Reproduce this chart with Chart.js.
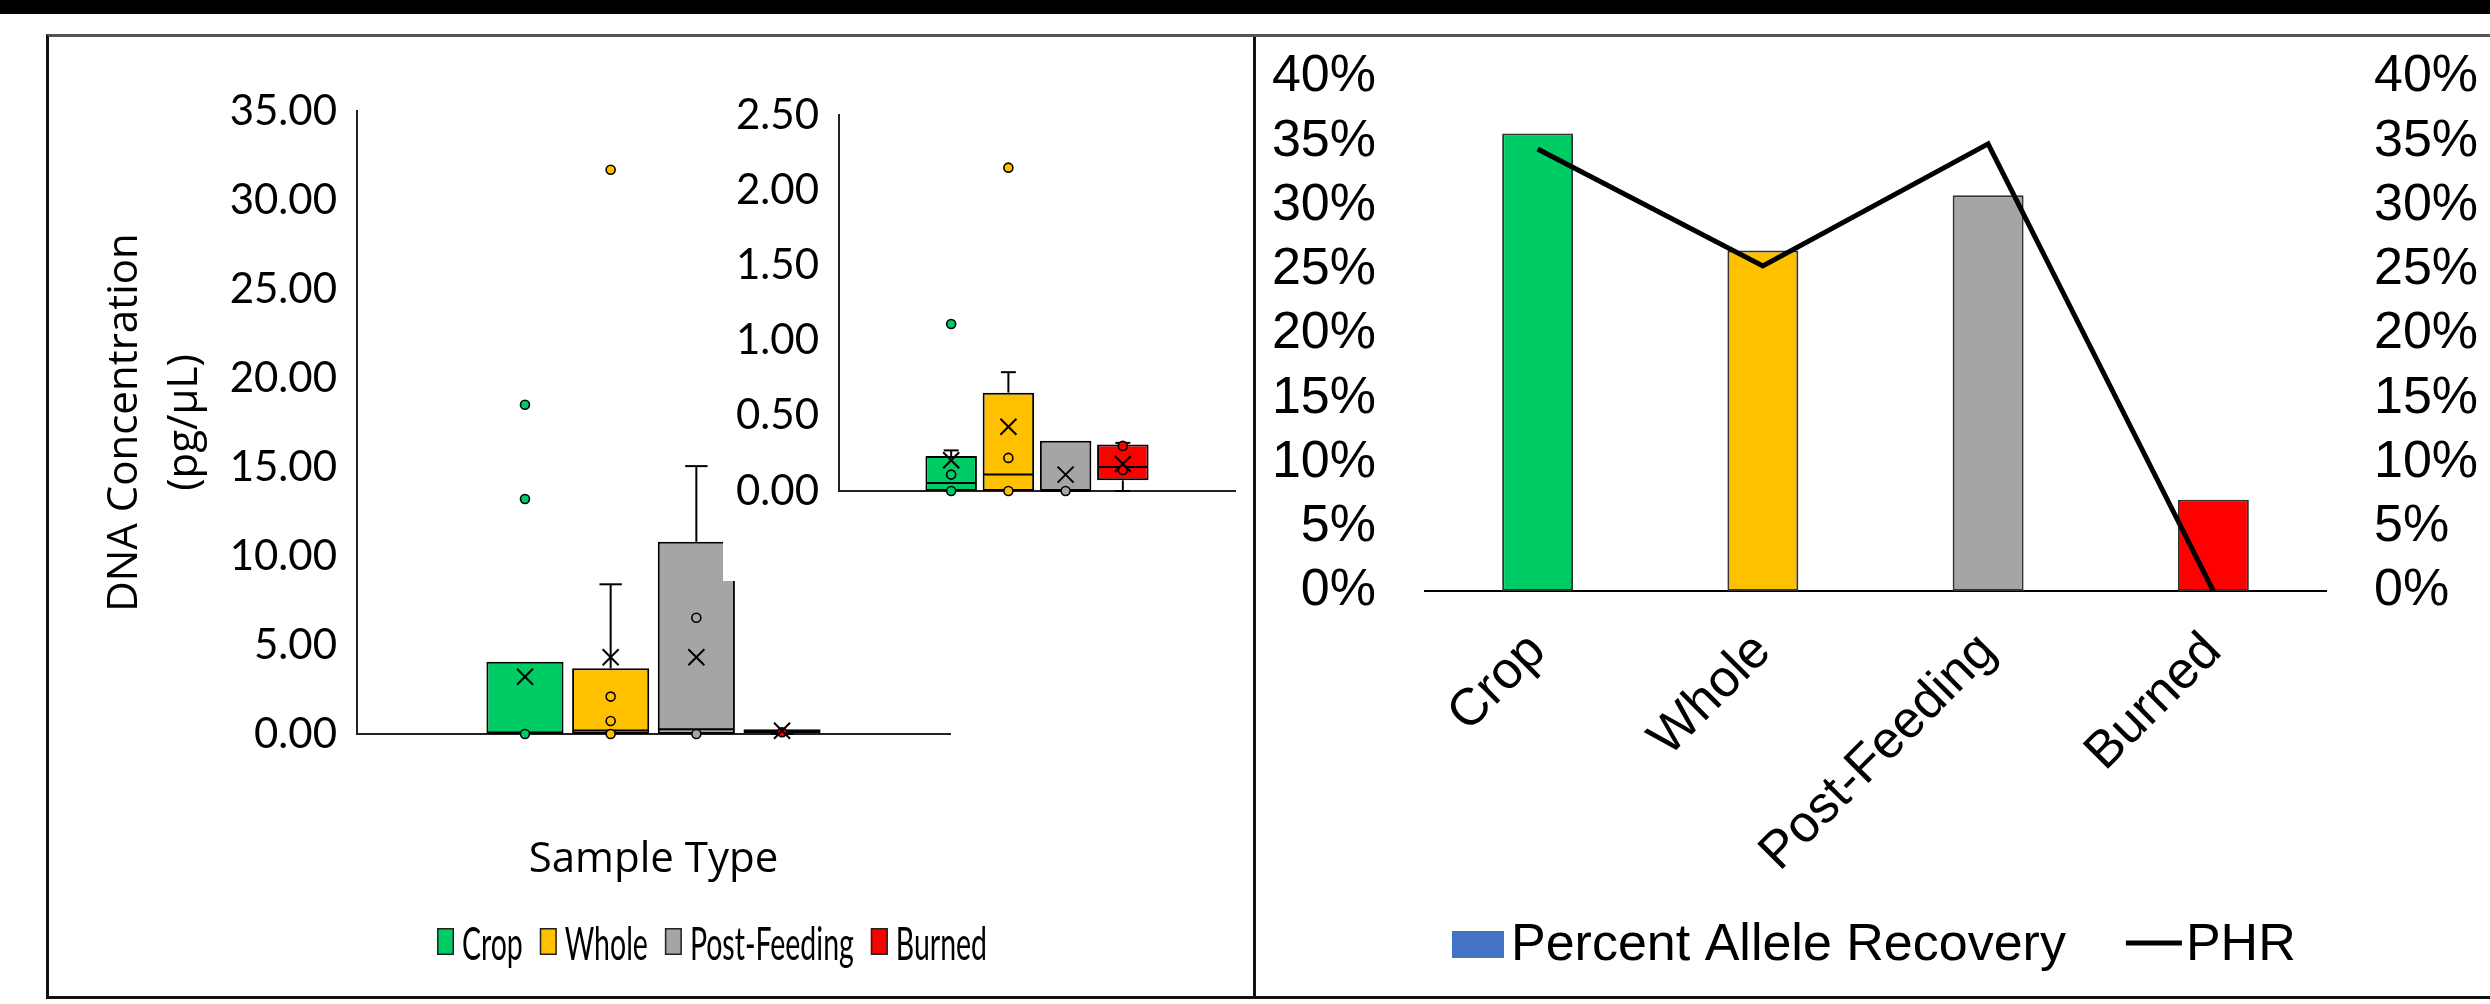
<!DOCTYPE html>
<html>
<head>
<meta charset="utf-8">
<title>DNA concentration and allele recovery by sample type</title>
<script src="https://cdn.jsdelivr.net/npm/chart.js@4.4.1/dist/chart.umd.min.js"></script>
<style>
  html, body { margin: 0; padding: 0; background: #fff; }
  body { width: 2490px; height: 1004px; position: relative; overflow: hidden; }
  .band { position: absolute; left: 0; top: 0; width: 2490px; height: 14px; background: #000; }
  .frame { position: absolute; box-sizing: border-box; }
  .wrap { position: absolute; }
  canvas { display: block; }
</style>
</head>
<body>
<div class="band"></div>
<div class="frame" style="left:46px;top:34px;width:1210px;height:965px;border:3px solid #111;border-top-color:#555;"></div>
<div class="frame" style="left:1253px;top:34px;width:1237px;height:965px;border-top:3px solid #555;border-bottom:3px solid #111;"></div>

<div class="wrap" style="left:50px;top:37px;width:1202px;height:958px;"><canvas id="concChart"></canvas></div>
<div class="wrap" style="left:723px;top:40px;width:527px;height:541px;background:#fff;"><canvas id="lowChart"></canvas></div>
<div class="wrap" style="left:1256px;top:37px;width:1234px;height:958px;"><canvas id="recoveryChart"></canvas></div>

<script>
// ---- Data ----------------------------------------------------------------
const sampleTypes = ['Crop', 'Whole', 'Post-Feeding', 'Burned'];

// DNA concentration (pg/µL), full range
const concQ1 = [0, 0, 0, 0.05];
const concQ3 = [4.06, 3.69, 10.8, 0.26];
const concMedian = [0.08, 0.19, 0.26, 0.14];
const concWhiskerLow = [0, 0, 0, 0];
const concWhiskerHigh = [4.06, 8.41, 15.05, 0.26];
const concMean = [3.22, 4.31, 4.31, 0.18];
const concPoints = [[0, 13.2, 18.5], [0, 0.73, 2.1, 31.7], [0, 6.53], [0.1]];

// DNA concentration (pg/µL), low-range detail
const lowQ1 = [0, 0, 0, 0.071];
const lowQ3 = [0.232, 0.654, 0.334, 0.309];
const lowMedian = [0.053, 0.109, 0, 0.16];
const lowWhiskerLow = [0, 0, 0, 0];
const lowWhiskerHigh = [0.27, 0.79, 0.334, 0.32];
const lowMean = [0.204, 0.427, 0.109, 0.18];
const lowPoints = [[0, 0.109, 1.11], [0, 0.22, 2.15], [0], [0.14, 0.30]];

// Percent allele recovery and PHR (%)
const alleleRecovery = [35.6, 26.5, 30.8, 7.1];
const phr = [34.4, 25.3, 34.8, 0];

// ---- Styling ---------------------------------------------------------------
const seriesColors = ['#00CC66', '#FFC000', '#A5A5A5', '#FF0000'];
const recoveryKeyColor = '#4472C4';

Chart.defaults.color = '#000';
Chart.defaults.animation = false;

// Median line, whiskers, mean cross and individual points on top of each box
const boxMarks = {
  id: 'boxMarks',
  afterDatasetsDraw(chart, args, o) {
    const ctx = chart.ctx;
    const ys = chart.scales.y;
    const line = (x1, y1, x2, y2) => { ctx.beginPath(); ctx.moveTo(x1, y1); ctx.lineTo(x2, y2); ctx.stroke(); };
    chart.data.datasets.forEach((ds, i) => {
      const bar = chart.getDatasetMeta(i).data[0];
      if (!bar) return;
      const x = bar.x, half = bar.width / 2, cap = half * 0.29;
      const [q1, q3] = ds.data[0];
      ctx.save();
      ctx.strokeStyle = '#000';
      ctx.lineWidth = 2;
      // whiskers
      const yq3 = ys.getPixelForValue(q3), yHi = ys.getPixelForValue(o.whiskerHigh[i]);
      if (o.whiskerHigh[i] > q3) { line(x, yq3, x, yHi); line(x - cap, yHi, x + cap, yHi); }
      const yq1 = ys.getPixelForValue(q1), yLo = ys.getPixelForValue(o.whiskerLow[i]);
      if (o.whiskerLow[i] < q1) { line(x, yq1, x, yLo); line(x - cap, yLo, x + cap, yLo); }
      // median
      const ym = ys.getPixelForValue(o.median[i]);
      line(x - half + 1, ym, x + half - 1, ym);
      // individual points
      o.points[i].forEach(v => {
        const py = ys.getPixelForValue(v);
        ctx.beginPath();
        ctx.arc(x, py, 4.5, 0, Math.PI * 2);
        ctx.fillStyle = ds.backgroundColor;
        ctx.fill();
        ctx.lineWidth = 1.6;
        ctx.stroke();
      });
      // mean marker
      const yMean = ys.getPixelForValue(o.mean[i]), s = 8;
      ctx.lineWidth = 2;
      line(x - s, yMean - s, x + s, yMean + s);
      line(x - s, yMean + s, x + s, yMean - s);
      ctx.restore();
    });
  }
};

// Series key under the box plot (tall, condensed lettering)
const seriesKey = {
  id: 'seriesKey',
  afterDraw(chart, args, o) {
    const ctx = chart.ctx;
    const items = chart.data.datasets.map(d => ({ text: d.label, color: d.backgroundColor }));
    ctx.save();
    ctx.font = o.fontSize + 'px ' + o.fontFamily;
    const natural = items.reduce((a, it) => a + ctx.measureText(it.text).width, 0);
    const sx = o.textWidth / natural;
    let x = o.left;
    items.forEach(it => {
      ctx.fillStyle = it.color;
      ctx.fillRect(x, o.top, o.keyW, o.keyH);
      ctx.strokeStyle = '#222';
      ctx.lineWidth = 1.5;
      ctx.strokeRect(x + 0.75, o.top + 0.75, o.keyW - 1.5, o.keyH - 1.5);
      x += o.keyW + o.gap;
      const w = ctx.measureText(it.text).width * sx;
      ctx.save();
      ctx.translate(x, o.baseline);
      ctx.scale(sx, 1);
      ctx.fillStyle = '#000';
      ctx.textBaseline = 'alphabetic';
      ctx.fillText(it.text, 0, 0);
      ctx.restore();
      x += w + o.itemGap;
    });
    ctx.restore();
  }
};

function boxPlot(canvasId, q1, q3, stats, layout) {
  return new Chart(document.getElementById(canvasId), {
    type: 'bar',
    data: {
      labels: [''],
      datasets: sampleTypes.map((name, i) => ({
        label: name,
        data: [[q1[i], q3[i]]],
        backgroundColor: seriesColors[i],
        borderColor: '#000',
        borderWidth: 2,
        borderSkipped: false,
        categoryPercentage: 0.578,
        barPercentage: 0.9
      }))
    },
    options: {
      responsive: true,
      maintainAspectRatio: false,
      devicePixelRatio: 1,
      animation: false,
      layout: { padding: layout.padding },
      plugins: {
        legend: { display: false },
        tooltip: { enabled: false },
        boxMarks: stats,
        seriesKey: layout.key || false
      },
      scales: {
        x: {
          grid: { display: false, drawTicks: false },
          ticks: { display: false },
          border: { display: true, color: '#222', width: 2 },
          title: layout.xTitle || { display: false },
          afterFit: s => { s.height = layout.xHeight; }
        },
        y: {
          min: 0,
          max: layout.max,
          grid: { display: false, drawTicks: false },
          border: { display: true, color: '#222', width: 2 },
          ticks: {
            stepSize: layout.step,
            autoSkip: false,
            padding: 20,
            color: '#000',
            font: { family: 'Lato', size: 42 },
            callback: v => Number(v).toFixed(2)
          },
          title: layout.yTitle || { display: false },
          afterFit: s => { s.width = layout.yWidth; s.paddingTop = 0; s.paddingBottom = 0; }
        }
      }
    },
    plugins: layout.key ? [boxMarks, seriesKey] : [boxMarks]
  });
}

boxPlot('concChart', concQ1, concQ3,
  { median: concMedian, whiskerLow: concWhiskerLow, whiskerHigh: concWhiskerHigh, mean: concMean, points: concPoints },
  {
    padding: { left: 0, top: 74, right: 302, bottom: 0 },
    max: 35, step: 5, yWidth: 307, xHeight: 261,
    yTitle: {
      display: true,
      text: ['DNA Concentration', '(pg/µL)'],
      color: '#000',
      font: { family: 'Open Sans', size: 42, lineHeight: 1.43 },
      padding: { top: 45, bottom: 0 }
    },
    xTitle: {
      display: true,
      text: 'Sample Type',
      color: '#000',
      font: { family: 'Open Sans', size: 42, lineHeight: 1.2 },
      padding: { top: 0, bottom: 110 }
    },
    key: { left: 387, top: 891, keyW: 17, keyH: 27, gap: 8, itemGap: 17, baseline: 923,
           fontSize: 46, fontFamily: 'Lato', textWidth: 399 }
  });

boxPlot('lowChart', lowQ1, lowQ3,
  { median: lowMedian, whiskerLow: lowWhiskerLow, whiskerHigh: lowWhiskerHigh, mean: lowMean, points: lowPoints },
  {
    padding: { left: 0, top: 75, right: 15, bottom: 0 },
    max: 2.5, step: 0.5, yWidth: 116, xHeight: 90
  });

// Key for the recovery chart: filled box for the bars, thick stroke for the line
const comboKey = {
  id: 'comboKey',
  afterDraw(chart, args, o) {
    const ctx = chart.ctx;
    const [lineDs, barDs] = chart.data.datasets;
    ctx.save();
    ctx.font = o.fontSize + 'px ' + o.fontFamily;
    ctx.textBaseline = 'alphabetic';
    let x = o.left;
    ctx.fillStyle = o.barKeyColor;
    ctx.fillRect(x, o.keyTop, o.keyW, o.keyH);
    x += o.keyW + o.textGap;
    ctx.fillStyle = '#000';
    ctx.fillText(barDs.label, x, o.baseline);
    x += ctx.measureText(barDs.label).width + o.itemGap;
    ctx.strokeStyle = lineDs.borderColor;
    ctx.lineWidth = lineDs.borderWidth;
    ctx.beginPath();
    ctx.moveTo(x, o.lineY);
    ctx.lineTo(x + o.lineLen, o.lineY);
    ctx.stroke();
    x += o.lineLen + o.lineTextGap;
    ctx.fillText(lineDs.label, x, o.baseline);
    ctx.restore();
  }
};

const pctTicks = (pad) => ({
  stepSize: 5,
  autoSkip: false,
  padding: pad,
  color: '#000',
  font: { family: 'Liberation Sans', size: 52, lineHeight: 1 },
  callback: v => v + '%'
});

new Chart(document.getElementById('recoveryChart'), {
  type: 'bar',
  data: {
    labels: sampleTypes,
    datasets: [
      {
        type: 'line',
        label: 'PHR',
        data: phr,
        yAxisID: 'y1',
        borderColor: '#000',
        borderWidth: 5,
        borderJoinStyle: 'miter',
        pointRadius: 0,
        tension: 0,
        fill: false,
        order: 0
      },
      {
        type: 'bar',
        label: 'Percent Allele Recovery',
        data: alleleRecovery,
        yAxisID: 'y',
        backgroundColor: seriesColors,
        borderColor: '#333',
        borderWidth: 2,
        borderSkipped: false,
        categoryPercentage: 1,
        barPercentage: 0.315,
        order: 1
      }
    ]
  },
  options: {
    responsive: true,
    maintainAspectRatio: false,
    devicePixelRatio: 1,
    animation: false,
    layout: { padding: { left: 0, right: 0, top: 40, bottom: 0 } },
    plugins: {
      legend: { display: false },
      tooltip: { enabled: false },
      comboKey: {
        left: 196, keyTop: 894, keyW: 52, keyH: 27, textGap: 7, baseline: 923,
        itemGap: 60, lineY: 906, lineLen: 56, lineTextGap: 4,
        fontSize: 52, fontFamily: 'Liberation Sans', barKeyColor: recoveryKeyColor
      }
    },
    scales: {
      x: {
        grid: { display: false, drawTicks: false },
        border: { display: true, color: '#000', width: 2 },
        ticks: {
          color: '#000',
          font: { family: 'Liberation Sans', size: 52 },
          minRotation: 45,
          maxRotation: 45,
          autoSkip: false,
          padding: 30
        },
        afterFit: s => { s.height = 404; }
      },
      y: {
        position: 'left',
        min: 0, max: 40,
        grid: { display: false, drawTicks: false },
        border: { display: false },
        ticks: pctTicks(49),
        afterFit: s => { s.width = 169; s.paddingTop = 0; s.paddingBottom = 0; }
      },
      y1: {
        position: 'right',
        min: 0, max: 40,
        grid: { display: false, drawTicks: false },
        border: { display: false },
        ticks: pctTicks(48),
        afterFit: s => { s.width = 164; s.paddingTop = 0; s.paddingBottom = 0; }
      }
    }
  },
  plugins: [comboKey]
});
</script>
</body>
</html>
